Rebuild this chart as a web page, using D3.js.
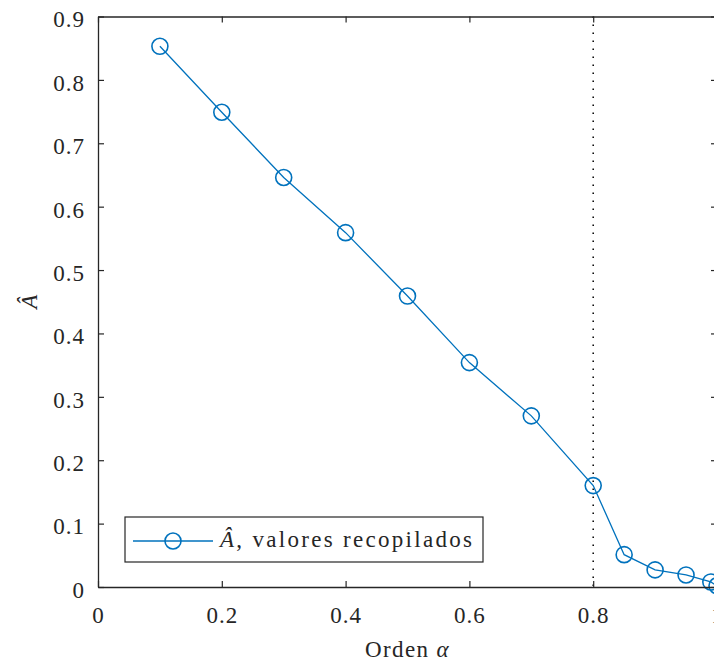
<!DOCTYPE html>
<html><head><meta charset="utf-8">
<script src="https://cdn.jsdelivr.net/npm/d3@7"></script>
<style>
body{margin:0;background:#fff;font-family:"Liberation Serif",serif;}
svg{display:block;}
svg text{font-family:"Liberation Serif",serif !important;}
</style></head>
<body>
<div id="chart"></div>
<script>
const alphaValues = [0.1,0.2,0.3,0.4,0.5,0.6,0.7,0.8,0.85,0.9,0.95,0.99,1.0];
const aHatValues  = [0.853,0.749,0.646,0.559,0.459,0.354,0.270,0.160,0.051,0.027,0.019,0.008,0.002];
const xTicks = [0,0.2,0.4,0.6,0.8,1];
const yTicks = [0,0.1,0.2,0.3,0.4,0.5,0.6,0.7,0.8,0.9];
const thresholdAlpha = 0.8;
const legendLabel = ", valores recopilados";

const FONT="Liberation Serif", FS=23;
const W=714,H=662;
const m={left:98,right:717,top:16.5,bottom:587};
const svg=d3.select("#chart").append("svg").attr("width",W).attr("height",H)
  .attr("font-family",FONT);
const x=d3.scaleLinear().domain([0,1]).range([m.left,m.right]);
const y=d3.scaleLinear().domain([0,0.9]).range([m.bottom,m.top]);
const axCol="#262626", blue="#0072BD";

// threshold dotted line
svg.append("line").attr("x1",x(thresholdAlpha)).attr("x2",x(thresholdAlpha))
  .attr("y1",m.top).attr("y2",m.bottom).attr("stroke","#000").attr("stroke-width",1.5)
  .attr("stroke-dasharray","1.5,6.5");

// data line
const pts=alphaValues.map((a,i)=>[a,aHatValues[i]]);
svg.append("path").datum(pts).attr("fill","none").attr("stroke",blue).attr("stroke-width",1.3)
  .attr("d",d3.line().x(d=>x(d[0])).y(d=>y(d[1])));
svg.selectAll("circle.pt").data(pts).enter().append("circle").attr("class","pt")
  .attr("cx",d=>x(d[0])).attr("cy",d=>y(d[1])).attr("r",8)
  .attr("fill","none").attr("stroke",blue).attr("stroke-width",1.6);

// axes box
const tl=6;
const gB=svg.append("g").attr("transform",`translate(0,${m.bottom})`)
  .call(d3.axisBottom(x).tickValues(xTicks).tickSizeInner(-tl).tickSizeOuter(0).tickPadding(20)
  .tickFormat(d=>d===0?"0":d===1?"1":d3.format(".1f")(d)));
const gT=svg.append("g").attr("transform",`translate(0,${m.top})`)
  .call(d3.axisTop(x).tickValues(xTicks).tickSizeInner(-tl).tickSizeOuter(0).tickFormat(""));
const gL=svg.append("g").attr("transform",`translate(${m.left},0)`)
  .call(d3.axisLeft(y).tickValues(yTicks).tickSizeInner(-tl).tickSizeOuter(0).tickPadding(13)
  .tickFormat(d=>d===0?"0":d3.format(".1f")(d)));
const gR=svg.append("g").attr("transform",`translate(${m.right},0)`)
  .call(d3.axisRight(y).tickValues(yTicks).tickSizeInner(-tl).tickSizeOuter(0).tickFormat(""));
[gB,gT,gL,gR].forEach(g=>{
  g.attr("font-family",FONT).attr("font-size",FS);
  g.select(".domain").attr("stroke",axCol).attr("stroke-width",1.3);
  g.selectAll(".tick line").attr("stroke",axCol).attr("stroke-width",1.2);
  g.selectAll("text").attr("fill",axCol).attr("font-family",FONT).attr("font-size",FS)
    .style("letter-spacing","1px");
});
gL.selectAll("text").attr("dy","0.45em");

// axis labels
const xl=svg.append("text").attr("x",(m.left+m.right)/2).attr("y",657).attr("text-anchor","middle")
  .attr("fill",axCol).attr("font-family",FONT).attr("font-size",FS).style("letter-spacing","1.4px");
xl.append("tspan").text("Orden ");
xl.append("tspan").attr("font-style","italic").text("α");
svg.append("text").attr("transform",`translate(37,${(m.top+m.bottom)/2}) rotate(-90)`)
  .attr("text-anchor","middle").attr("fill",axCol).attr("font-family",FONT).attr("font-size",FS)
  .attr("font-style","italic").text("Â");

// legend
const lg=svg.append("g");
lg.append("rect").attr("x",125).attr("y",517).attr("width",358).attr("height",45)
  .attr("fill","#fff").attr("stroke",axCol).attr("stroke-width",1.2);
lg.append("line").attr("x1",133).attr("x2",213).attr("y1",541).attr("y2",541).attr("stroke",blue).attr("stroke-width",1.3);
lg.append("circle").attr("cx",173).attr("cy",541).attr("r",8).attr("fill","none").attr("stroke",blue).attr("stroke-width",1.6);
const lt=lg.append("text").attr("x",220).attr("y",547).attr("fill",axCol).attr("font-family",FONT).attr("font-size",FS)
  .attr("textLength",252).attr("lengthAdjust","spacing");
lt.append("tspan").attr("font-style","italic").text("Â");
lt.append("tspan").text(legendLabel);
</script>
</body></html>
